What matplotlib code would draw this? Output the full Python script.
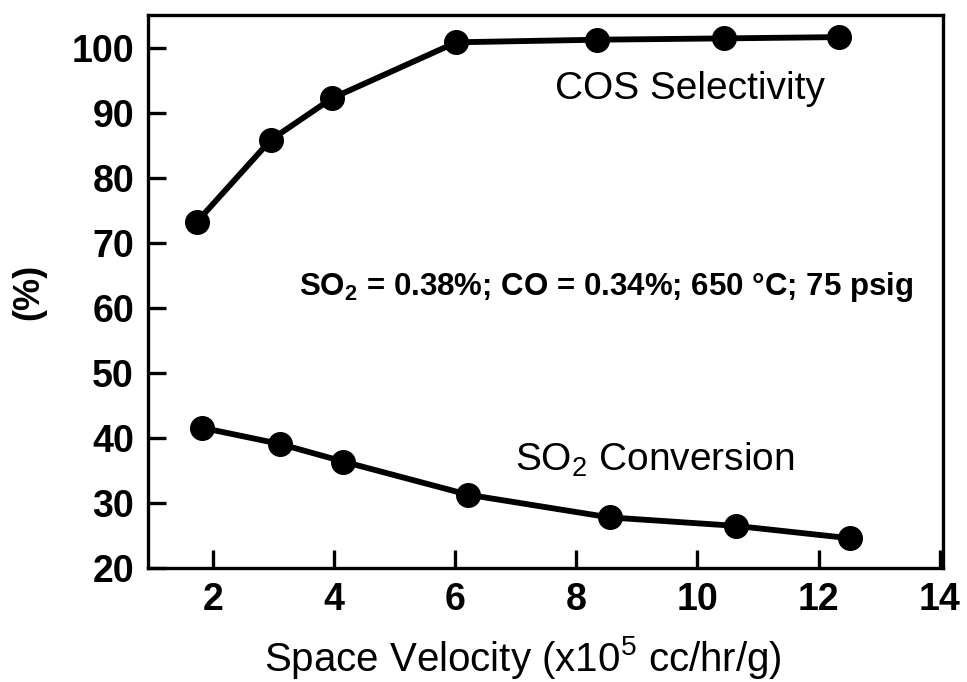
import matplotlib
matplotlib.use("Agg")
import matplotlib.pyplot as plt

plt.rcParams['font.family'] = ['Liberation Sans', 'DejaVu Sans']
plt.rcParams['mathtext.fontset'] = 'custom'
plt.rcParams['mathtext.rm'] = 'Liberation Sans'
plt.rcParams['mathtext.bf'] = 'Liberation Sans:bold'

# Data
cos_x = [1.74, 2.96, 3.97, 6.02, 8.35, 10.43, 12.33]
cos_y = [73.3, 85.9, 92.3, 100.9, 101.3, 101.5, 101.7]
so2_x = [1.82, 3.11, 4.15, 6.21, 8.55, 10.63, 12.51]
so2_y = [41.6, 39.1, 36.4, 31.3, 27.8, 26.5, 24.6]

x_ticks = [2, 4, 6, 8, 10, 12, 14]
y_ticks = [20, 30, 40, 50, 60, 70, 80, 90, 100]

fig = plt.figure(figsize=(9.67, 6.82), dpi=100)
ax = fig.add_axes([0.153, 0.167, 0.822, 0.811])

for xs, ys in [(cos_x, cos_y), (so2_x, so2_y)]:
    ax.plot(xs, ys, color='black', lw=4.2, marker='o', ms=17,
            markerfacecolor='black', markeredgecolor='black', solid_joinstyle='round')

ax.set_xlim(0.93, 14.05)
ax.set_ylim(20, 105.1)
ax.set_xticks(x_ticks)
ax.set_yticks(y_ticks)
ax.tick_params(direction='in', length=13, width=2.4, labelsize=27, pad=10)
for lab in ax.get_xticklabels() + ax.get_yticklabels():
    lab.set_fontweight('bold')
for s in ax.spines.values():
    s.set_linewidth(2.4)

ax.set_xlabel(r'Space Velocity (x10$^5$ cc/hr/g)', fontsize=29)
ax.xaxis.set_label_coords(0.472, -0.12)
ax.set_ylabel('(%)', fontsize=26, fontweight='bold', labelpad=18)

ax.text(9.88, 93.7, 'COS Selectivity', fontsize=28, ha='center', va='center')
ax.text(9.3, 36.6, r'SO$_2$ Conversion', fontsize=28, ha='center', va='center')
ax.text(8.5, 63.3, r'SO$_\mathbf{2}$ = 0.38%; CO = 0.34%; 650 °C; 75 psig',
        fontsize=22.5, fontweight='bold', ha='center', va='center')

fig.savefig('out.png', dpi=100)
